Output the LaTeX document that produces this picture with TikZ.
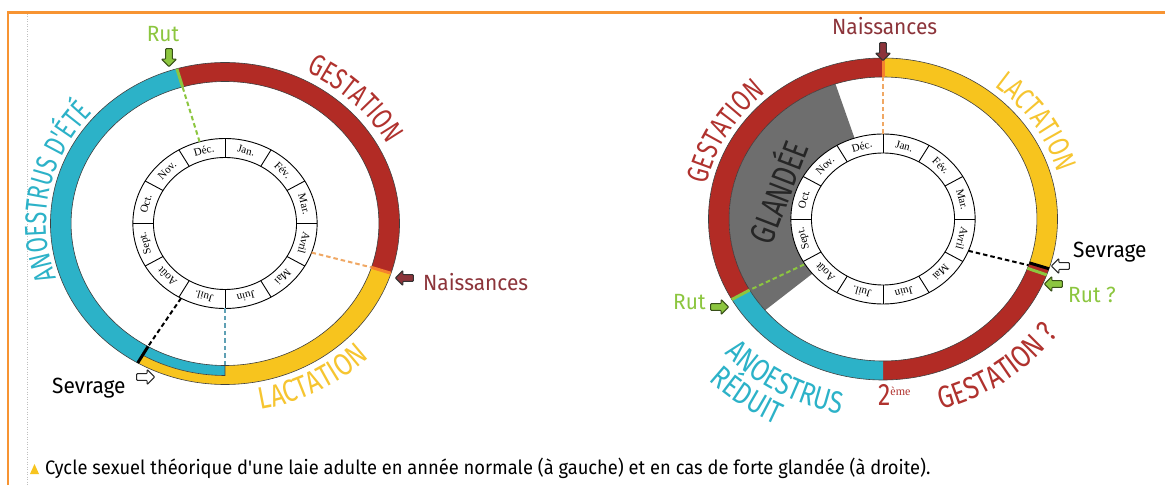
\documentclass[tikz,border=0pt]{standalone}
\usepackage{fontspec}
\usetikzlibrary{shapes.arrows,decorations.text}

\newfontfamily\labfont[FakeStretch=0.74]{Fira Sans}
\newfontfamily\lowfont[FakeStretch=0.8]{Fira Sans}
\newfontfamily\smfont[FakeStretch=0.95]{Fira Sans}
\newfontfamily\capfont[FakeStretch=0.94]{Fira Sans}
\newfontfamily\monfont{Liberation Serif}
\newcommand\bigfont{\labfont\fontsize{30}{32}\selectfont}
\newcommand\botfont{\lowfont\fontsize{31}{33}\selectfont}

\definecolor{gest}{RGB}{178,43,37}
\definecolor{gesttxt}{RGB}{176,50,46}
\definecolor{lact}{RGB}{247,196,30}
\definecolor{lacttxt}{RGB}{246,197,48}
\definecolor{anoe}{RGB}{44,178,200}
\definecolor{rut}{RGB}{140,198,63}
\definecolor{nais}{RGB}{245,130,45}
\definecolor{naistxt}{RGB}{140,52,58}
\definecolor{naislink}{RGB}{240,168,100}
\definecolor{anoelink}{RGB}{95,160,180}
\definecolor{glan}{RGB}{110,110,110}
\definecolor{frame}{RGB}{247,148,50}

\newcommand\ringpart[5]{%
    \fill[#1] (#2:#4) arc[start angle=#2, end angle=#3, radius=#4]
        -- (#3:#5) arc[start angle=#3, end angle=#2, radius=#5] -- cycle;}

\newcommand\monthwheel[1]{%
    \fill[white] (0,0) circle (85);
    \foreach \m [count=\i from 0] in {Jan.,Fév.,Mar.,Avril,Mai,Juin,Juil.,Août,Sept.,Oct.,Nov.,Déc.}
        \node(#1\i)[mlabel, rotate=-15-30*\i] at ({75-30*\i}:75.5) {\m};
    \foreach \i in {0,...,11}
        \draw[wheel] ({90-30*\i}:66) -- ({90-30*\i}:85);
    \draw[wheel] (0,0) circle (66) (0,0) circle (85);}

\begin{document}
\begin{tikzpicture}[x=1pt, y=1pt]
    \tikzset{
        mlabel/.style   =   { font=\monfont\fontsize{11}{12}\selectfont
                            , inner sep=0pt
        }
        , wheel/.style  =   { line width=0.9pt }
        , rim/.style    =   { draw=black!75
                            , line width=0.6pt
        }
        , notch/.style  =   { line width=3pt }
        , link/.style   =   { line width=2pt
                            , dash pattern=on 4.5pt off 3pt
        }
        , small/.style  =   { font=\smfont\fontsize{22}{24}\selectfont
                            , inner sep=0pt
        }
        , blip/.style   =   { single arrow
                            , minimum height=18pt
                            , minimum width=15pt
                            , single arrow head extend=4pt
                            , inner sep=2.8pt
                            , line width=1pt
                            , rounded corners=0.8pt
        }
        , toplabel/.style n args={2}{ decorate
                            , decoration={text along path, text align=center
                                         , text color=#2, text={|\bigfont|#1}}
        }
        , botlabel/.style n args={2}{ decorate
                            , decoration={text along path, text align=center
                                         , text color=#2, text={|\botfont|#1}}
        }
    }
    \path[fill=white, use as bounding box] (0,0) rectangle (1165,485);
    \draw[frame, line width=2.5pt] (8,0) -- (8,472.5) -- (1165,472.5);
    \draw[black!25, line width=0.8pt, dash pattern=on 1pt off 1.5pt] (27,471) -- (27,0);

    % annee normale
    \begin{scope}[shift={(225,261.5)}, x=1.084pt]
        \monthwheel{lm}
        \ringpart{anoe}{106}{240}{142}{161}
        \ringpart{anoe}{240}{270}{142}{152}
        \ringpart{lact}{240}{270}{152}{161}
        \ringpart{lact}{270}{342}{142}{161}
        \ringpart{gest}{-18}{106}{142}{161}
        \draw[rim] (0,0) circle (161) (0,0) circle (142);
        \draw[rim] (240:152) arc[start angle=240, end angle=270, radius=152] -- (270:142);
        \draw[notch, rut] (106:142) -- (106:161);
        \draw[notch, nais] (-18:142) -- (-18:161);
        \draw[notch, black] (-120:142) -- (-120:161);

        \coordinate (lrut-m) at (106:85);
        \coordinate (lrut-r) at (106:142);
        \coordinate (lnai-m) at (-20:85);
        \coordinate (lnai-r) at (-18:142);
        \coordinate (lano-m) at (-90:85);
        \coordinate (lano-r) at (-90:142);
        \coordinate (lsev-m) at (-118.5:85);
        \coordinate (lsev-r) at (-120:142);
        \draw[link, rut]      (lrut-m) -- (lrut-r);
        \draw[link, naislink] (lnai-m) -- (lnai-r);
        \draw[link, anoelink] (lano-m) -- (lano-r);
        \draw[link, black]    (lsev-m) -- (lsev-r);

        \path[toplabel={GESTATION}{gesttxt}] (85:169) arc[start angle=85, end angle=5, radius=169];
        \path[toplabel={ANOESTRUS D'ÉTÉ}{anoe}] (219:165) arc[start angle=219, end angle=119, radius=165];
        \path[botlabel={LACTATION}{lacttxt}] (-102:189) arc[start angle=-102, end angle=-22, radius=189];
    \end{scope}

    % forte glandee
    \begin{scope}[shift={(883,266)}, x=1.084pt]
        \ringpart{glan}{108}{220}{85}{142}
        \monthwheel{rm}
        \ringpart{lact}{-18}{90}{142}{161}
        \ringpart{gest}{-90}{-18}{142}{161}
        \ringpart{anoe}{-150}{-90}{142}{161}
        \ringpart{gest}{90}{210}{142}{161}
        \draw[rim] (0,0) circle (161) (0,0) circle (142);
        \draw[notch, nais] (90:142) -- (90:161);
        \draw[notch, black] (-18:142) -- (-18:161);
        \draw[notch, rut] (-20.3:142) -- (-20.3:161);
        \draw[notch, rut] (210:142) -- (210:161);

        \coordinate (rnai-m) at (90:85);
        \coordinate (rnai-r) at (90:142);
        \coordinate (rsev-m) at (-22:85);
        \coordinate (rsev-r) at (-19:142);
        \coordinate (rrut-m) at (212:86);
        \coordinate (rrut-r) at (210:142);
        \draw[link, naislink] (rnai-m) -- (rnai-r);
        \draw[link, black]    (rsev-m) -- (rsev-r);
        \draw[link, rut]      (rrut-m) -- (rrut-r);

        \path[toplabel={GESTATION}{gesttxt}] (190:166) arc[start angle=190, end angle=110, radius=166];
        \path[toplabel={LACTATION}{lacttxt}] (73.5:168) arc[start angle=73.5, end angle=-6.5, radius=168];
        \path[botlabel={ANOESTRUS}{anoe}] (200:199) arc[start angle=200, end angle=280, radius=199];
        \path[botlabel={RÉDUIT}{anoe}] (194:228) arc[start angle=194, end angle=274, radius=228];
        \path[botlabel={GESTATION ?}{gesttxt}] (266:198) arc[start angle=266, end angle=346, radius=198];
    \end{scope}
    \node(glandee)[rotate=69, inner sep=0pt, text=black!85] at (776,294)
        {\labfont\fontsize{35}{37}\selectfont GLANDÉE};
    \node(deux)[anchor=base west, inner sep=0pt, text=gesttxt] at (878,79)
        {\botfont 2\raisebox{10pt}{\monfont\fontsize{12}{12}\selectfont ème}};

    % etiquettes et fleches
    \node(lrut)[small, text=rut, anchor=base] at (163,443) {Rut};
    \node(lnai)[small, text=naistxt, anchor=base west] at (423,194) {Naissances};
    \node(lsev)[small, anchor=base west] at (52,92) {Sevrage};
    \node(rnai)[small, text=naistxt, anchor=base west] at (832,450) {Naissances};
    \node(rsev)[small, anchor=base west] at (1073,227) {Sevrage};
    \node(rrutq)[small, text=rut, anchor=base west] at (1068,182) {Rut ?};
    \node(rrut)[small, text=rut, anchor=base west] at (673,175) {Rut};

    \node(a1)[blip, fill=rut, draw=rut!40!black, shape border rotate=285] at (169,429) {};
    \node(a2)[blip, fill=naistxt, draw=black!80, shape border rotate=156] at (406,207) {};
    \node(a3)[blip, fill=white, draw=black!85, shape border rotate=39] at (144,108) {};
    \node(a4)[blip, fill=naistxt, draw=black!80, shape border rotate=270] at (883,435) {};
    \node(a5)[blip, fill=white, draw=black!85, shape border rotate=208] at (1062,219) {};
    \node(a6)[blip, fill=rut, draw=rut!40!black, shape border rotate=140] at (1055,201) {};
    \node(a7)[blip, fill=rut, draw=rut!40!black, shape border rotate=14] at (718,178) {};

    \fill[lact] (30,11) -- (39,11) -- (34.5,21) -- cycle;
    \node(cap)[anchor=base west, inner sep=0pt] at (45,11)
        {\capfont\fontsize{19.5}{21}\selectfont Cycle sexuel théorique d'une laie adulte en année normale (à gauche) et en cas de forte glandée (à droite).};
\end{tikzpicture}
\end{document}
